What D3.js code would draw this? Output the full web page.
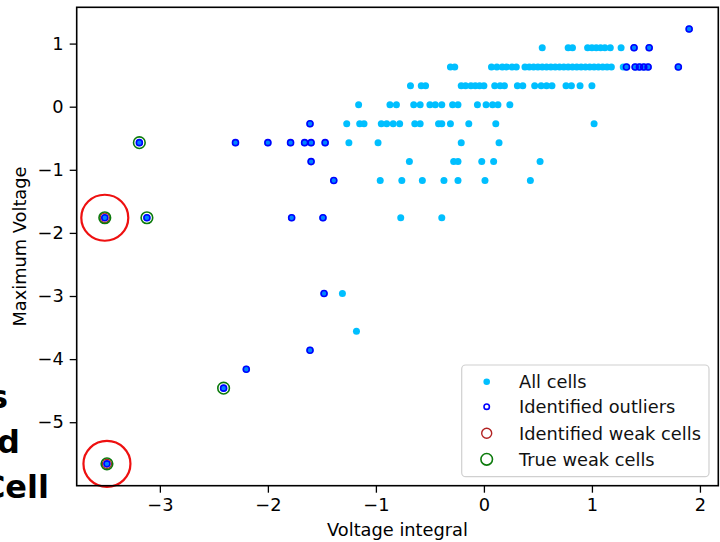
<!DOCTYPE html>
<html>
<head>
<meta charset="utf-8">
<script src="https://cdn.jsdelivr.net/npm/d3@7/dist/d3.min.js"></script>
<style>
  html, body { margin: 0; padding: 0; background: #fff; }
  svg { display: block; }
  text { font-family: "DejaVu Sans", sans-serif; }
</style>
</head>
<body>
<script>
// Maximum-voltage levels (rows) and the voltage integral of every plain cell on each row
const voltageLevels = [0.935, 0.63, 0.33, 0.03, -0.27, -0.57, -0.87, -1.17, -1.76, -2.96, -3.56];
const cellIntegrals = [
  [0.54, 0.78, 0.82, 0.96, 1.00, 1.04, 1.08, 1.12, 1.17, 1.27],
  [-0.31, -0.27, 0.07, 0.12, 0.17, 0.21, 0.26, 0.30, 0.38, 0.42, 0.46, 0.50, 0.54, 0.58, 0.62, 0.66,
   0.70, 0.74, 0.78, 0.82, 0.86, 0.90, 0.94, 0.98, 1.02, 1.06, 1.10, 1.14, 1.18, 1.29],
  [-0.68, -0.58, -0.54, -0.21, -0.17, -0.12, -0.08, -0.04, 0.00, 0.10, 0.15, 0.19, 0.31, 0.36,
   0.47, 0.53, 0.58, 0.63, 0.76, 0.81, 0.89, 1.00],
  [-1.16, -0.87, -0.81, -0.65, -0.59, -0.50, -0.45, -0.39, -0.29, -0.24, -0.06, 0.02, 0.08, 0.13, 0.24],
  [-1.27, -1.15, -1.11, -0.95, -0.90, -0.84, -0.78, -0.64, -0.59, -0.42, -0.39, -0.31, -0.14, 0.11, 1.02],
  [-1.25, -0.98, -0.21, 0.14],
  [-0.69, -0.28, -0.24, -0.02, 0.09, 0.52],
  [-0.96, -0.76, -0.57, -0.37, -0.24, 0.01, 0.43],
  [-0.77, -0.39],
  [-1.31],
  [-1.18]
];

// Cells flagged as outliers
const outlierX = [1.90, 1.39, 1.53, 1.32, 1.40, 1.44, 1.48, 1.52, 1.80, -1.61,
  -3.19, -2.30, -2.00, -1.79, -1.66, -1.60, -1.47, -1.60, -1.39,
  -3.51, -3.12, -1.78, -1.49, -1.48, -1.61, -2.20, -2.41, -3.49];
const outlierY = [1.23, 0.935, 0.935, 0.63, 0.63, 0.63, 0.63, 0.63, 0.63, -0.27,
  -0.57, -0.57, -0.57, -0.57, -0.57, -0.57, -0.57, -0.87, -1.17,
  -1.76, -1.76, -1.76, -1.76, -2.96, -3.86, -4.16, -4.46, -5.66];

// Weak cells found by the method, and the known weak cells
const identifiedWeakX = [-3.51, -3.49];
const identifiedWeakY = [-1.76, -5.66];
const trueWeakX = [-3.19, -3.51, -3.12, -2.41, -3.49];
const trueWeakY = [-0.57, -1.76, -1.76, -4.46, -5.66];

const xTicks = [-3, -2, -1, 0, 1, 2];
const yTicks = [-5, -4, -3, -2, -1, 0, 1];
const legendLabels = ["All cells", "Identified outliers", "Identified weak cells", "True weak cells"];

const W = 720, H = 542;
const plot = { left: 76.7, right: 718.3, top: 7.3, bottom: 485.7 };
const fontSize = 17.8;

const x = d3.scaleLinear().domain([-3.77, 2.17]).range([plot.left, plot.right]);
const y = d3.scaleLinear().domain([-6.006, 1.575]).range([plot.bottom, plot.top]);

const svg = d3.select("body").append("svg").attr("width", W).attr("height", H);

// Partial caption text running in from the left edge
const caption = svg.append("g").attr("font-family", "'Liberation Sans', Arial, sans-serif")
  .attr("font-weight", "bold").attr("font-size", 32).attr("fill", "#000").attr("text-anchor", "end");
caption.append("text").attr("x", 8).attr("y", 408).text("s");
caption.append("text").attr("x", 20).attr("y", 453).text("d");
caption.append("text").attr("x", 49).attr("y", 498).text("Cell");

// Flatten plain cells and combine with the outliers (outliers are cells too)
const cells = [];
voltageLevels.forEach((v, i) => cellIntegrals[i].forEach(xi => cells.push([xi, v])));
const outliers = outlierX.map((d, i) => [d, outlierY[i]]);
const allCells = cells.concat(outliers);
const identifiedWeak = identifiedWeakX.map((d, i) => [d, identifiedWeakY[i]]);
const trueWeak = trueWeakX.map((d, i) => [d, trueWeakY[i]]);

const colors = { cell: "#00BFFF", outlier: "#0000FF", identified: "#B22222", truth: "#0B7A0B", mark: "#EE1010" };

const marks = svg.append("g");
marks.selectAll("circle.cell").data(allCells).join("circle").attr("class", "cell")
  .attr("cx", d => x(d[0])).attr("cy", d => y(d[1])).attr("r", 3.5).attr("fill", colors.cell);
marks.selectAll("circle.outlier").data(outliers).join("circle").attr("class", "outlier")
  .attr("cx", d => x(d[0])).attr("cy", d => y(d[1])).attr("r", 3)
  .attr("fill", "rgba(0,0,255,0.3)").attr("stroke", colors.outlier).attr("stroke-width", 1.6);
marks.selectAll("circle.identified").data(identifiedWeak).join("circle").attr("class", "identified")
  .attr("cx", d => x(d[0])).attr("cy", d => y(d[1])).attr("r", 4.6)
  .attr("fill", "none").attr("stroke", colors.identified).attr("stroke-width", 1.3);
marks.selectAll("circle.truth").data(trueWeak).join("circle").attr("class", "truth")
  .attr("cx", d => x(d[0])).attr("cy", d => y(d[1])).attr("r", 5.8)
  .attr("fill", "none").attr("stroke", colors.truth).attr("stroke-width", 1.6);
// Highlight rings around the identified weak cells
marks.selectAll("ellipse.highlight").data(identifiedWeak).join("ellipse").attr("class", "highlight")
  .attr("cx", d => x(d[0])).attr("cy", d => y(d[1])).attr("rx", 23.5).attr("ry", 23)
  .attr("fill", "none").attr("stroke", colors.mark).attr("stroke-width", 2.2);

// Axes
const minus = s => String(s).replace("-", "\u2212");
const xAxis = svg.append("g").attr("transform", `translate(0,${plot.bottom})`)
  .call(d3.axisBottom(x).tickValues(xTicks).tickFormat(minus).tickSize(7).tickPadding(6));
const yAxis = svg.append("g").attr("transform", `translate(${plot.left},0)`)
  .call(d3.axisLeft(y).tickValues(yTicks).tickFormat(minus).tickSize(7).tickPadding(6));
[xAxis, yAxis].forEach(a => {
  a.select(".domain").remove();
  a.selectAll(".tick line").attr("stroke", "#000").attr("stroke-width", 1.3);
  a.selectAll(".tick text").attr("font-size", fontSize).attr("fill", "#000")
    .attr("font-family", "'DejaVu Sans', sans-serif");
});

svg.append("rect").attr("x", plot.left).attr("y", plot.top)
  .attr("width", plot.right - plot.left).attr("height", plot.bottom - plot.top)
  .attr("fill", "none").attr("stroke", "#000").attr("stroke-width", 1.6);

svg.append("text").attr("x", (plot.left + plot.right) / 2).attr("y", 535.5)
  .attr("text-anchor", "middle").attr("font-size", fontSize).text("Voltage integral");
svg.append("text").attr("transform", `translate(26,${(plot.top + plot.bottom) / 2}) rotate(-90)`)
  .attr("text-anchor", "middle").attr("font-size", fontSize).text("Maximum Voltage");

// Legend
const lg = svg.append("g");
lg.append("rect").attr("x", 461.7).attr("y", 365).attr("width", 247.3).attr("height", 111.7)
  .attr("rx", 4).attr("fill", "rgba(255,255,255,0.8)").attr("stroke", "#d0d0d0").attr("stroke-width", 1.2);
const rowY = [381.7, 406.7, 433.3, 459.3];
const mx = 486.7;
lg.append("circle").attr("cx", mx).attr("cy", rowY[0]).attr("r", 3.3).attr("fill", colors.cell);
lg.append("circle").attr("cx", mx).attr("cy", rowY[1]).attr("r", 2.7)
  .attr("fill", "none").attr("stroke", colors.outlier).attr("stroke-width", 1.6);
lg.append("circle").attr("cx", mx).attr("cy", rowY[2]).attr("r", 5)
  .attr("fill", "none").attr("stroke", colors.identified).attr("stroke-width", 1.4);
lg.append("circle").attr("cx", mx).attr("cy", rowY[3]).attr("r", 5.8)
  .attr("fill", "none").attr("stroke", colors.truth).attr("stroke-width", 1.6);
lg.selectAll("text.lab").data(legendLabels).join("text").attr("class", "lab")
  .attr("x", 519).attr("y", (d, i) => rowY[i]).attr("dy", "0.36em")
  .attr("font-size", fontSize).attr("fill", "#111").text(d => d);
</script>
</body>
</html>
